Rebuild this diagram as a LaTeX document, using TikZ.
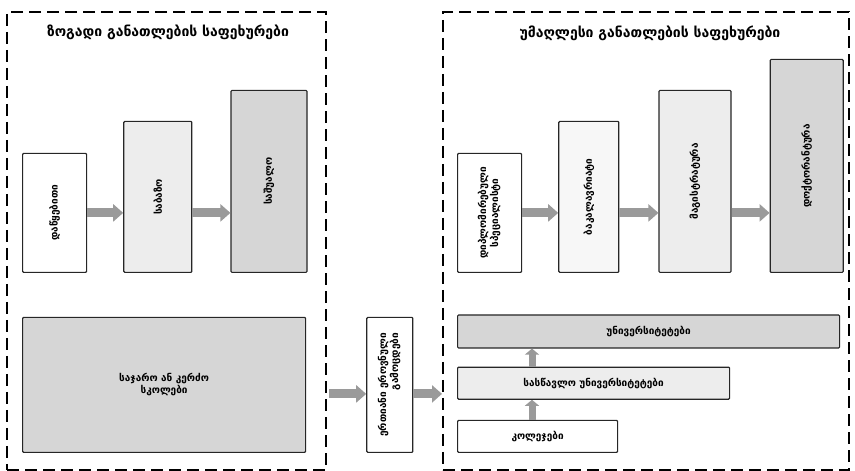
\documentclass[tikz,border=0pt]{standalone}
\usepackage{fontspec}
\setmainfont{DejaVu Sans}
\usepackage{tikz}
\usetikzlibrary{calc}
\usetikzlibrary{positioning}
\usetikzlibrary{arrows.meta}

\definecolor{lightfill}{HTML}{EDEDED}
\definecolor{midfill}{HTML}{D6D6D6}
\definecolor{palefill}{HTML}{F7F7F7}
\definecolor{arrowgray}{HTML}{9A9A9A}

\begin{document}
\begin{tikzpicture}[x=1pt,y=1pt,font=\fontsize{10}{12}\selectfont\bfseries,
      frame style/.style={rectangle,draw=black,line width=2pt,dash
        pattern=on 12pt off 6pt,inner sep=0pt},
      title style/.style={font=\fontsize{14}{16}\selectfont\bfseries},
      box style/.style={rectangle,draw=black!85,line width=1.2pt,rounded
        corners=1pt,inner sep=2pt,align=center},
      arrow style/.style={draw=arrowgray,line
        width=9pt,-{Triangle[length=10pt,width=17pt]}},
      up style/.style={draw=arrowgray,line
        width=7pt,-{Triangle[length=6pt,width=14pt]}}
      ]
      \useasboundingbox (0,0) rectangle (855,471);

      \node[frame style,minimum width=319pt,minimum height=458pt] (general) at (166.5,230) {};
      \node[frame style,minimum width=406pt,minimum height=458pt] (higher) at (646,230) {};
      \node[title style] (gtitle) at (168,439) {ზოგადი განათლების საფეხურები};
      \node[title style] (htitle) at (650,438) {უმაღლესი განათლების საფეხურები};

      % general education
      \node[box style,fill=white,minimum width=64pt,minimum height=119pt,anchor=south west] (prim) at (22,198) {\rotatebox{90}{დაწყებითი}};
      \node[box style,fill=lightfill,minimum width=68pt,minimum height=151pt,above right=0pt and 36pt of prim.south east] (basic) {\rotatebox{90}{საბაზო}};
      \node[box style,fill=midfill,minimum width=76pt,minimum height=182pt,above right=0pt and 38pt of basic.south east] (second) {\rotatebox{90}{საშუალო}};
      \node[box style,fill=midfill,minimum width=283pt,minimum height=135pt,anchor=south west] (school) at (22,18) {საჯარო ან კერძო\\სკოლები};

      \node[box style,fill=white,minimum width=46pt,minimum height=135pt,right=60pt of school] (exams) {\rotatebox{90}{\begin{tabular}{@{}r@{}}ერთიანი ეროვნული\\გამოცდები\end{tabular}}};

      % higher education
      \node[box style,fill=white,minimum width=64pt,minimum height=119pt,anchor=south west] (dipl) at (457,198) {\rotatebox{90}{\begin{tabular}{@{}c@{}}დიპლომირებული\\სპეციალისტი\end{tabular}}};
      \node[box style,fill=palefill,minimum width=60pt,minimum height=151pt,above right=0pt and 36pt of dipl.south east] (bach) {\rotatebox{90}{ბაკალავრიატი}};
      \node[box style,fill=lightfill,minimum width=72pt,minimum height=182pt,above right=0pt and 39pt of bach.south east] (mast) {\rotatebox{90}{მაგისტრატურა}};
      \node[box style,fill=midfill,minimum width=73pt,minimum height=213pt,above right=0pt and 38pt of mast.south east] (doct) {\rotatebox{90}{დოქტორანტურა}};

      \node[box style,fill=white,minimum width=160pt,minimum height=32pt,anchor=south west] (coll) at (457,18) {კოლეჯები};
      \node[box style,fill=lightfill,minimum width=272pt,minimum height=32pt,above right=20pt and 0pt of coll.north west] (teach) {სასწავლო უნივერსიტეტები};
      \node[box style,fill=midfill,minimum width=382pt,minimum height=33pt,above right=18pt and 0pt of teach.north west] (univ) {უნივერსიტეტები};

      \draw[arrow style] (prim.east) -- (prim.east -| basic.west);
      \draw[arrow style] (basic.east |- prim.east) -- (prim.east -| second.west);
      \draw[arrow style] (dipl.east) -- (dipl.east -| bach.west);
      \draw[arrow style] (bach.east |- dipl.east) -- (dipl.east -| mast.west);
      \draw[arrow style] (mast.east |- dipl.east) -- (dipl.east -| doct.west);

      \draw[arrow style] ([xshift=2pt,yshift=-9pt]general.east |- exams.west) -- ([yshift=-9pt]exams.west);
      \draw[arrow style] ([yshift=-9pt]exams.east) -- ([yshift=-9pt]higher.west |- exams.east);

      \draw[up style] ($(coll.north west)+(75,0)$) -- ($(teach.south west)+(75,0)$);
      \draw[up style] ($(teach.north west)+(75,0)$) -- ($(univ.south west)+(75,0)$);

    \end{tikzpicture}
\end{document}
